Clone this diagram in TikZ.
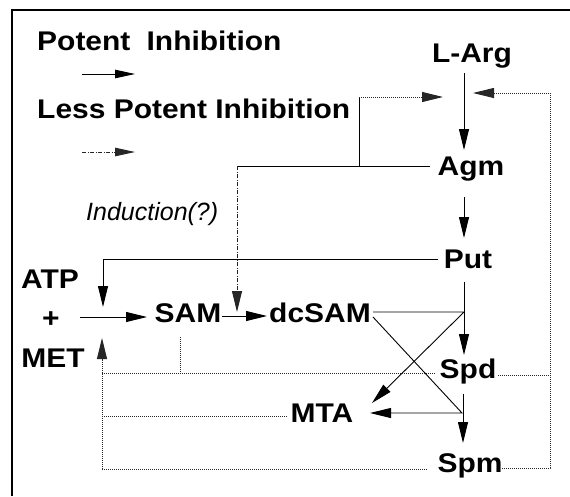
\documentclass[tikz,border=0pt]{standalone}
\usepackage{fontspec}
\usetikzlibrary{arrows.meta}
\newfontfamily\labfont[FakeStretch=1.11]{Liberation Sans}
\newfontfamily\indfont{Liberation Sans}
\begin{document}
\begin{tikzpicture}[x=1pt,y=-1pt,
  lab/.style={font=\labfont\bfseries\fontsize{27}{30}\selectfont, inner sep=0pt, anchor=base},
  leg/.style={font=\labfont\bfseries\fontsize{27}{30}\selectfont, inner sep=0pt, anchor=base west},
  ln/.style={line width=0.9pt, black},
  arr/.style={ln, -{Triangle[length=21pt,width=10pt]}},
  larr/.style={ln, -{Triangle[length=20pt,width=8.5pt]}},
  dots/.style={line width=0.9pt, black!85, dash pattern=on 1.2pt off 0.8pt},
  dsh/.style={line width=0.9pt, black!85, dash pattern=on 4pt off 1.5pt on 1pt off 1.5pt}
]
\useasboundingbox (0,0) rectangle (570,496);
% frame
\draw[line width=1.3pt, black] (12,496) -- (12,10) -- (570,10);

% legend
\node[leg] (t1) at (37,50) {Potent\hspace{0.6em}Inhibition};
\node[leg] (t2) at (37,118) {Less Potent Inhibition};
\coordinate (la1) at (82,74);  \coordinate (lb1) at (135,74);
\coordinate (la2) at (82,152); \coordinate (lb2) at (135,152);
\draw[larr] (la1) -- (lb1);
\draw[larr, dsh] (la2) -- (lb2);
\node[font=\indfont\itshape\fontsize{25}{30}\selectfont, inner sep=0pt, anchor=base west] (ind) at (86,220) {Induction(?)};

% metabolites
\node[lab] (larg) at (472,62) {L-Arg};
\node[lab] (agm) at (471,175) {Agm};
\node[lab] (put) at (468,268) {Put};
\node[lab] (dcsam) at (320,322) {dcSAM};
\node[lab] (sam) at (188,322) {SAM};
\node[lab] (atp) at (50,288) {ATP};
\node[lab] (plus) at (51,327) {+};
\node[lab] (met) at (53,367) {MET};
\node[lab] (spd) at (468,378) {Spd};
\node[lab] (mta) at (322,422) {MTA};
\node[lab] (spm) at (470,472) {Spm};

% main pathway
\coordinate (a1) at (464,73);  \coordinate (a2) at (464,150);
\coordinate (b1) at (464,197); \coordinate (b2) at (464,238);
\coordinate (c1) at (464,282); \coordinate (c2) at (464,355);
\coordinate (d1) at (463,394); \coordinate (d2) at (463,443);
\draw[arr] (a1) -- (a2);
\draw[arr] (b1) -- (b2);
\draw[arr] (c1) -- (c2);
\draw[arr] (d1) -- (d2);

% Agm inhibitions
\coordinate (agmL) at (430,166);
\coordinate (j1) at (237,166);
\coordinate (j2) at (359,166);
\coordinate (j3) at (359,97);
\coordinate (tipL) at (443,97);
\coordinate (tipdc) at (237,312);
\draw[ln] (agmL) -- (j1);
\draw[arr, dsh] (j1) -- (tipdc);
\draw[ln] (j2) -- (j3);
\draw[arr, dots] (j3) -- (tipL);

% Spd / Spm feedback to L-Arg step
\coordinate (spmR) at (502,468);
\coordinate (spdR) at (498,375);
\coordinate (r1) at (550,468);
\coordinate (r2) at (550,375);
\coordinate (r3) at (550,93);
\coordinate (tipR) at (473,93);
\draw[arr, dots] (spmR) -- (r1) -- (r3) -- (tipR);
\draw[dots] (spdR) -- (r2);

% Put induction of SAM synthesis
\coordinate (putL) at (438,259);
\coordinate (p1) at (103,259);
\coordinate (p2) at (103,307);
\draw[arr] (putL) -- (p1) -- (p2);

% ATP + MET -> SAM -> dcSAM
\coordinate (e1) at (80,317);  \coordinate (e2) at (147,317);
\coordinate (f1) at (222,316); \coordinate (f2) at (267,316);
\draw[arr] (e1) -- (e2);
\draw[arr] (f1) -- (f2);

% aminopropyl transfers giving MTA
\coordinate (g1) at (373,312);
\coordinate (g2) at (464,312);
\coordinate (g3) at (372,403);
\coordinate (h1) at (373,317);
\coordinate (h2) at (462,413);
\coordinate (h3) at (370,413);
\draw[arr] (g1) -- (g2) -- (g3);
\draw[arr] (h1) -- (h2) -- (h3);

% feedback to SAM synthesis
\coordinate (k0) at (102,338);
\coordinate (k1) at (102,373);
\coordinate (k2) at (102,416);
\coordinate (k3) at (102,469);
\coordinate (spdL) at (435,373);
\coordinate (samB) at (180,337);
\coordinate (samJ) at (180,373);
\coordinate (mtaL) at (287,416);
\coordinate (spmL) at (427,469);
\draw[arr, dots] (k3) -- (k0);
\draw[dots] (k1) -- (spdL);
\draw[dots] (samB) -- (samJ);
\draw[dots] (k2) -- (mtaL);
\draw[dots] (k3) -- (spmL);
\end{tikzpicture}
\end{document}
